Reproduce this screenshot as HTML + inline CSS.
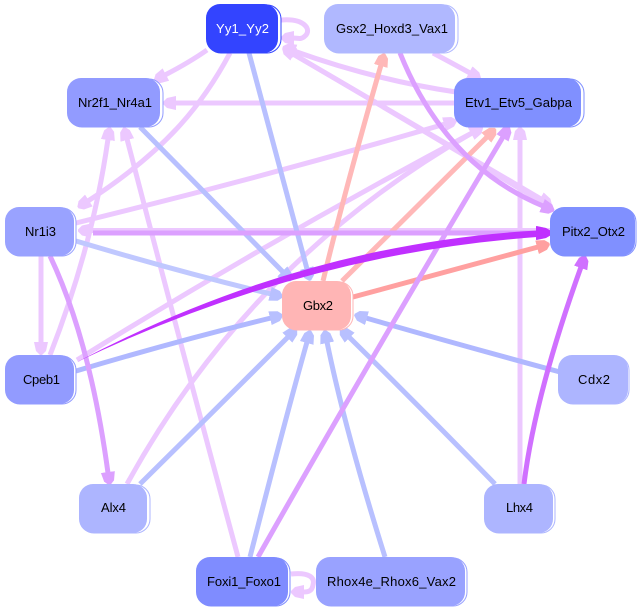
<!DOCTYPE html>
<html>
<head>
<meta charset="utf-8">
<style>
html,body{margin:0;padding:0;background:#fff;}
svg{display:block;}
text{font-family:"Liberation Sans",sans-serif;font-size:13px;text-anchor:start;fill:#000;}
.e{fill:none;stroke-width:5;}
.l{stroke:#ecc8ff;}
.b{stroke:#b8c0ff;}
.p{stroke:#ffb8b8;}
.r{stroke:#ffa0a0;}
.d{stroke:#dca0ff;}
.m{stroke:#d070ff;}
</style>
</head>
<body>
<svg width="642" height="611" viewBox="0 0 642 611" xmlns="http://www.w3.org/2000/svg">
<defs>
<marker id="ml" markerUnits="userSpaceOnUse" markerWidth="16" markerHeight="16" refX="1" refY="8" orient="auto"><path d="M0,1L9,3L13,7L13,9L9,13L0,15z" fill="#ecc8ff"/></marker>
<marker id="mb" markerUnits="userSpaceOnUse" markerWidth="16" markerHeight="16" refX="1" refY="8" orient="auto"><path d="M0,1L9,3L13,7L13,9L9,13L0,15z" fill="#b8c0ff"/></marker>
<marker id="mp" markerUnits="userSpaceOnUse" markerWidth="16" markerHeight="16" refX="1" refY="8" orient="auto"><path d="M0,1L9,3L13,7L13,9L9,13L0,15z" fill="#ffb8b8"/></marker>
<marker id="mr" markerUnits="userSpaceOnUse" markerWidth="16" markerHeight="16" refX="1" refY="8" orient="auto"><path d="M0,1L9,3L13,7L13,9L9,13L0,15z" fill="#ffa0a0"/></marker>
<marker id="md" markerUnits="userSpaceOnUse" markerWidth="16" markerHeight="16" refX="1" refY="8" orient="auto"><path d="M0,1L9,3L13,7L13,9L9,13L0,15z" fill="#dca0ff"/></marker>
<marker id="mm" markerUnits="userSpaceOnUse" markerWidth="16" markerHeight="16" refX="1" refY="8" orient="auto"><path d="M0,1L9,3L13,7L13,9L9,13L0,15z" fill="#d070ff"/></marker>
</defs>

<!-- light purple edges -->
<path class="e l" marker-end="url(#ml)" d="M207,50Q190,62 165,75"/>
<path class="e l" marker-end="url(#ml)" d="M230,53C205,100 170,148 88,201"/>
<path class="e l" marker-end="url(#ml)" d="M550,207Q420,128 293,54"/>
<path class="e l" marker-end="url(#ml)" d="M293,54Q420,128 541,199"/>
<path class="e l" marker-end="url(#ml)" d="M456,92Q375,80 294,51"/>
<path class="e l" marker-end="url(#ml)" d="M433,53Q450,62 470,73"/>
<path class="e l" marker-end="url(#ml)" d="M454,103L175,103"/>
<path class="e l" marker-end="url(#ml)" d="M76,223Q260,178 445,124"/>
<path class="e l" marker-end="url(#ml)" d="M77,360Q270,240 472,133"/>
<path class="e l" marker-end="url(#ml)" d="M127,484Q250,260 472,133"/>
<path class="e l" marker-end="url(#ml)" d="M550,230.5L90,230.5"/>
<path class="e l" marker-end="url(#ml)" d="M50,355Q93,245 108,139"/>
<path class="e l" marker-end="url(#ml)" d="M41,256L41,343"/>
<path class="e l" marker-end="url(#ml)" d="M238,557Q182,350 127,139"/>
<path class="e l" marker-end="url(#ml)" d="M520,484L520,139"/>
<path class="e l" marker-end="url(#ml)" d="M281,20C305,18 312,30 305,36C301,40 298,38 293,38"/>
<path class="e l" marker-end="url(#ml)" d="M291,574C310,572 315,578 313,585C312,592 307,592 303,592"/>

<!-- blue edges -->
<path class="e b" marker-end="url(#mb)" d="M249,53Q268,125 307,269"/>
<path class="e b" style="stroke:#c0c8ff" marker-end="url(#mb)" d="M76,241Q180,272 271,294"/>
<path class="e b" style="stroke:#b0b8ff" marker-end="url(#mb)" d="M76,371Q180,340 271,318"/>
<path class="e b" marker-end="url(#mb)" d="M140,127L283,272"/>
<path class="e b" marker-end="url(#mb)" d="M140,484Q215,410 288,337"/>
<path class="e b" marker-end="url(#mb)" d="M250,557Q285,420 307,342"/>
<path class="e b" marker-end="url(#mb)" d="M385,557Q345,430 327,342"/>
<path class="e b" style="stroke:#b0b8ff" marker-end="url(#mb)" d="M560,372Q460,345 366,318"/>
<path class="e b" marker-end="url(#mb)" d="M495,484Q425,412 349,337"/>

<!-- red edges -->
<path class="e p" marker-end="url(#mp)" d="M323,281Q345,190 381,65"/>
<path class="e p" marker-end="url(#mp)" d="M342,281L487,137"/>
<path class="e r" marker-end="url(#mr)" d="M353,297L538,247"/>

<!-- purple edges -->
<path class="e d" marker-end="url(#md)" d="M400,53Q445,165 543,206"/>
<path class="e d" marker-end="url(#md)" d="M93,233L538,233"/>
<path class="e d" marker-end="url(#md)" d="M50,256Q90,340 108,473"/>
<path class="e d" marker-end="url(#md)" d="M258,557Q365,368 503,137"/>
<path class="e m" marker-end="url(#mm)" d="M524,484Q535,395 581,267"/>

<!-- tapered strong edge -->
<path d="M77,362Q300,244 537,230.5L537,237Q302,254 77,362z" fill="#c030ff"/>
<path d="M536,226L546,228L553,232L553,234L546,238L536,240z" fill="#c030ff"/>

<!-- nodes -->
<g stroke-width="1">
<rect x="207" y="5" width="74" height="48" rx="14" fill="#fff" stroke="#3344ff"/><rect x="206" y="4" width="72" height="49" rx="14" fill="#3344ff"/>
<rect x="325" y="5" width="133" height="48" rx="14" fill="#fff" stroke="#b0b8ff"/><rect x="324" y="4" width="131" height="49" rx="14" fill="#b0b8ff"/>
<rect x="68" y="79" width="95" height="48" rx="14" fill="#fff" stroke="#929bff"/><rect x="67" y="78" width="93" height="49" rx="14" fill="#929bff"/>
<rect x="455" y="79" width="129" height="48" rx="14" fill="#fff" stroke="#8090ff"/><rect x="454" y="78" width="127" height="49" rx="14" fill="#8090ff"/>
<rect x="6" y="208" width="70" height="48" rx="14" fill="#fff" stroke="#99a2ff"/><rect x="5" y="207" width="69" height="49" rx="14" fill="#99a2ff"/>
<rect x="551" y="208" width="85" height="48" rx="14" fill="#fff" stroke="#8090ff"/><rect x="550" y="207" width="85" height="49" rx="14" fill="#8090ff"/>
<rect x="283" y="282" width="70" height="48" rx="14" fill="#fff" stroke="#ffb5b5"/><rect x="282" y="281" width="69" height="49" rx="14" fill="#ffb5b5"/>
<rect x="6" y="356" width="70" height="48" rx="14" fill="#fff" stroke="#929bff"/><rect x="5" y="355" width="69" height="49" rx="14" fill="#929bff"/>
<rect x="559" y="356" width="70" height="48" rx="14" fill="#fff" stroke="#adb5ff"/><rect x="558" y="355" width="70" height="49" rx="14" fill="#adb5ff"/>
<rect x="80" y="485" width="70" height="48" rx="14" fill="#fff" stroke="#adb5ff"/><rect x="79" y="484" width="68" height="49" rx="14" fill="#adb5ff"/>
<rect x="485" y="485" width="70" height="48" rx="14" fill="#fff" stroke="#adb5ff"/><rect x="484" y="484" width="69" height="49" rx="14" fill="#adb5ff"/>
<rect x="197" y="558" width="93" height="48" rx="14" fill="#fff" stroke="#7f8cff"/><rect x="196" y="557" width="92" height="49" rx="14" fill="#7f8cff"/>
<rect x="317" y="558" width="150" height="48" rx="14" fill="#fff" stroke="#99a2ff"/><rect x="316" y="557" width="149" height="49" rx="14" fill="#99a2ff"/>
</g>

<!-- labels -->
<text x="216" y="33" textLength="53" lengthAdjust="spacing" style="fill:#fff">Yy1_Yy2</text>
<text x="336" y="33" textLength="112" lengthAdjust="spacing">Gsx2_Hoxd3_Vax1</text>
<text x="78" y="107" textLength="74" lengthAdjust="spacing">Nr2f1_Nr4a1</text>
<text x="465" y="107" textLength="107" lengthAdjust="spacing">Etv1_Etv5_Gabpa</text>
<text x="25" y="236" textLength="31" lengthAdjust="spacing">Nr1i3</text>
<text x="562" y="236" textLength="63" lengthAdjust="spacing">Pitx2_Otx2</text>
<text x="303" y="310" textLength="30" lengthAdjust="spacing">Gbx2</text>
<text x="23" y="384" textLength="37" lengthAdjust="spacing">Cpeb1</text>
<text x="578" y="384" textLength="32" lengthAdjust="spacing">Cdx2</text>
<text x="101" y="512" textLength="25" lengthAdjust="spacing">Alx4</text>
<text x="506" y="512" textLength="27" lengthAdjust="spacing">Lhx4</text>
<text x="207" y="586" textLength="74" lengthAdjust="spacing">Foxi1_Foxo1</text>
<text x="327" y="586" textLength="129" lengthAdjust="spacing">Rhox4e_Rhox6_Vax2</text>
</svg>
</body>
</html>
